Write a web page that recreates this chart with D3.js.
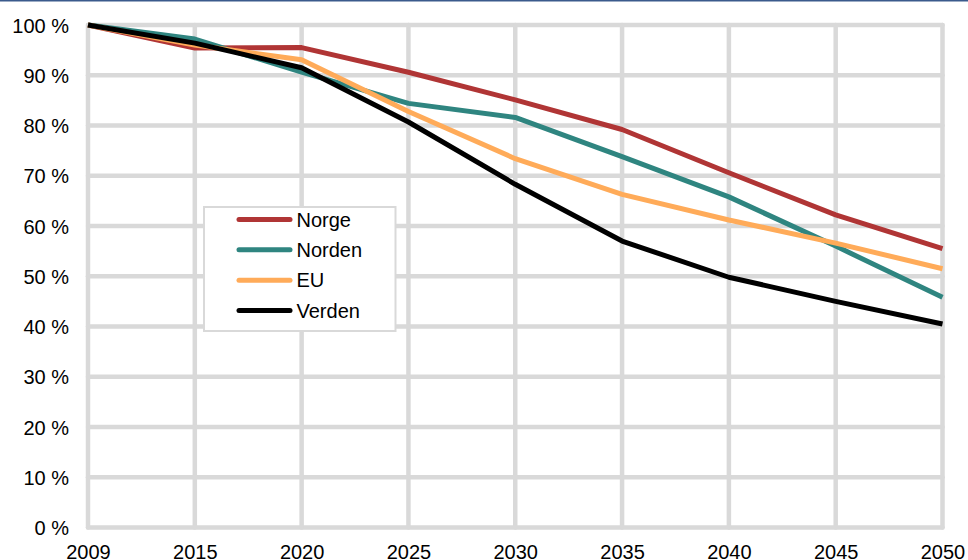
<!DOCTYPE html>
<html>
<head>
<meta charset="utf-8">
<script src="https://cdn.jsdelivr.net/npm/d3@7"></script>
<style>
  html, body { margin: 0; padding: 0; background: #fff; }
  svg { display: block; }
  text { font-family: "Liberation Sans", Arial, sans-serif; fill: #000; }
</style>
</head>
<body>
<svg id="chart" width="968" height="560"></svg>
<script>
const years = ["2009", "2015", "2020", "2025", "2030", "2035", "2040", "2045", "2050"];
const seriesNames = ["Norge", "Norden", "EU", "Verden"];
const norge  = [100, 95.4, 95.5, 90.6, 85.1, 79.2, 70.6, 62.2, 55.5];
const norden = [100, 97.2, 90.6, 84.4, 81.6, 73.8, 65.8, 56.0, 45.8];
const eu     = [100, 96.0, 93.1, 82.8, 73.4, 66.3, 61.2, 56.6, 51.5];
const verden = [100, 96.4, 91.5, 80.7, 68.3, 57.0, 49.8, 45.0, 40.5];
const yTicks = [0, 10, 20, 30, 40, 50, 60, 70, 80, 90, 100];
const colors = ["#b03535", "#2f8580", "#ffab59", "#000000"];

const values = [norge, norden, eu, verden];
const svg = d3.select("#chart");

// top rule
svg.append("line").attr("x1", 0).attr("x2", 968).attr("y1", 0.75).attr("y2", 0.75)
  .attr("stroke", "#3b5a8c").attr("stroke-width", 1.5);

const x = d3.scalePoint().domain(years).range([88, 942.5]);
const y = d3.scaleLinear().domain([0, 100]).range([527.5, 25]);

const grid = svg.append("g").attr("stroke", "#d9d9d9").attr("stroke-width", 4.5)
  .attr("stroke-linecap", "round");
yTicks.forEach(t => {
  grid.append("line").attr("x1", x.range()[0]).attr("x2", x.range()[1])
    .attr("y1", y(t)).attr("y2", y(t));
});
years.forEach(c => {
  grid.append("line").attr("x1", x(c)).attr("x2", x(c))
    .attr("y1", y(100)).attr("y2", y(0));
});

// y axis labels
const yAxis = d3.axisLeft(y).tickValues(yTicks).tickFormat(d => d + " %").tickSize(0).tickPadding(0);
const ya = svg.append("g").attr("transform", "translate(69,0)").call(yAxis);
ya.select(".domain").remove();
ya.selectAll("text").attr("font-size", 20).attr("font-family", "Liberation Sans, Arial, sans-serif")
  .attr("fill", "#000").attr("dy", "0.35em").attr("x", 0);

// x axis labels
const xAxis = d3.axisBottom(x).tickSize(0).tickPadding(0);
const xa = svg.append("g").attr("transform", "translate(0,0)").call(xAxis);
xa.select(".domain").remove();
xa.selectAll("text").attr("font-size", 20).attr("font-family", "Liberation Sans, Arial, sans-serif")
  .attr("fill", "#000").attr("y", 558.5).attr("dy", 0);

// lines
const line = d3.line().x((d, i) => x(years[i])).y(d => y(d));
values.forEach((vals, k) => {
  svg.append("path").datum(vals).attr("d", line)
    .attr("fill", "none").attr("stroke", colors[k]).attr("stroke-width", 5)
    .attr("stroke-linejoin", "round");
});

// legend
const lg = svg.append("g");
lg.append("rect").attr("x", 204).attr("y", 207).attr("width", 191.5).attr("height", 124)
  .attr("fill", "#fff").attr("stroke", "#d9d9d9").attr("stroke-width", 2);
const rowY = [219.5, 249.8, 280.2, 310.6];
seriesNames.forEach((n, k) => {
  lg.append("line").attr("x1", 239).attr("x2", 290).attr("y1", rowY[k]).attr("y2", rowY[k])
    .attr("stroke", colors[k]).attr("stroke-width", 5).attr("stroke-linecap", "round");
  lg.append("text").attr("x", 296.5).attr("y", rowY[k]).attr("dy", "0.35em")
    .attr("font-size", 20).text(n);
});
</script>
</body>
</html>
